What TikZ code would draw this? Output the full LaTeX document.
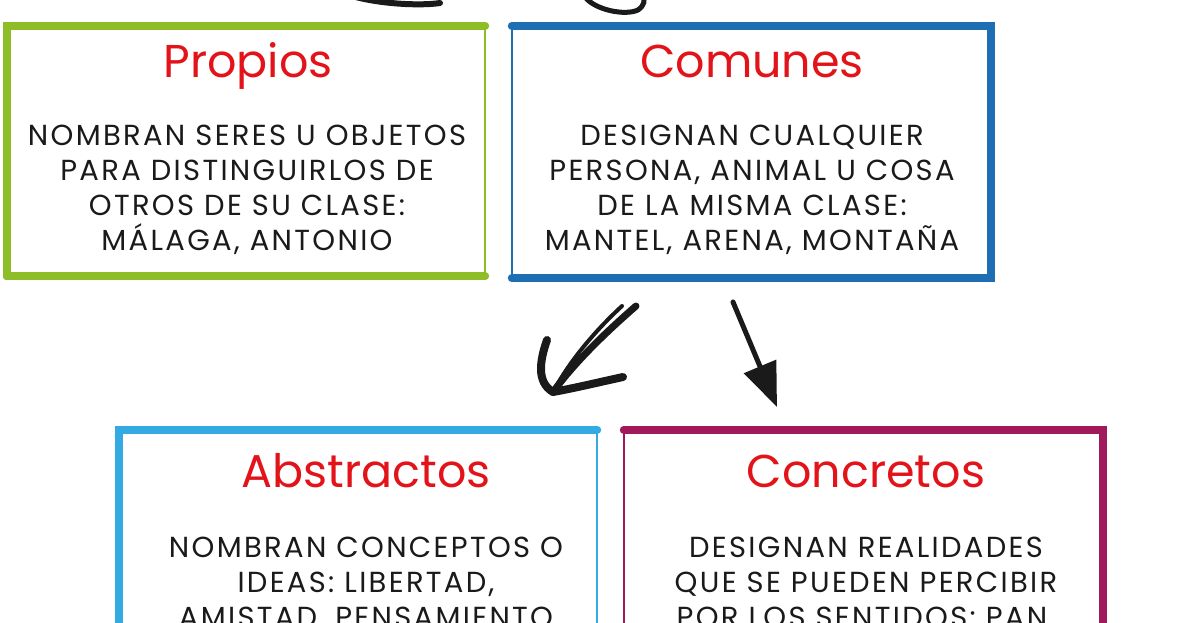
\documentclass[tikz,border=0pt]{standalone}
\usepackage{fontspec}
\setmainfont{Poppins}
\newfontfamily\cuerpo{Poppins}[LetterSpace=8]
\usetikzlibrary{arrows.meta}

\definecolor{verde}{HTML}{8DBE28}
\definecolor{azul}{HTML}{1E6EB4}
\definecolor{celeste}{HTML}{33AAE1}
\definecolor{magenta}{HTML}{A0195A}
\definecolor{rojo}{HTML}{E2141A}
\definecolor{tinta}{HTML}{1A1A1A}

\tikzset{
  caja/.style={draw=none,inner sep=0pt},
  grueso/.style={line width=8pt,line cap=round},
  fino/.style={line width=2.5pt,line cap=round},
  titulo/.style={text=rojo,font=\fontsize{46}{50}\selectfont,anchor=base,inner sep=0pt},
  texto/.style={text=tinta,font=\cuerpo\fontsize{29}{35}\selectfont,align=center,anchor=north,inner sep=0pt},
  trazo/.style={draw=tinta,line cap=round,line join=round}
}

\begin{document}
\begin{tikzpicture}[x=1pt,y=-1pt]

  \useasboundingbox (0,0) rectangle (1186,622);
  \clip (0,0) rectangle (1186,622);
  \fill[white] (0,0) rectangle (1186,622);

  % Specification of boxes (position, size)
  \node[caja,minimum width=478pt,minimum height=250pt] (propios) at (246,151) {};
  \node[caja,minimum width=479pt,minimum height=252pt] (comunes) at (751.5,152) {};
  \node[caja,minimum width=478pt,minimum height=470pt] (abstractos) at (358,665) {};
  \node[caja,minimum width=479pt,minimum height=470pt] (concretos) at (863.5,665) {};

  % Box edges
  \draw[verde,grueso] (propios.south west) -- (propios.north west) -- (propios.north east);
  \draw[verde,grueso] (propios.south west) -- (propios.south east);
  \draw[verde,fino] (propios.north east) -- (propios.south east);

  \draw[azul,grueso] (comunes.north west) -- (comunes.north east) -- (comunes.south east) -- (comunes.south west);
  \draw[azul,fino] (comunes.north west) -- (comunes.south west);

  \draw[celeste,grueso] (abstractos.south west) -- (abstractos.north west) -- (abstractos.north east);
  \draw[celeste,fino] (abstractos.north east) -- (abstractos.south east);

  \draw[magenta,grueso] (concretos.north west) -- (concretos.north east) -- (concretos.south east);
  \draw[magenta,fino] (concretos.north west) -- (concretos.south west);

  % Titles
  \node[titulo] (tpropios) at (248,77) {Propios};
  \node[titulo] (tcomunes) at (752,77) {Comunes};
  \node[titulo] (tabstractos) at (366,487) {Abstractos};
  \node[titulo] (tconcretos) at (866,487) {Concretos};

  % Texts
  \node[texto] (xpropios) at (247,125) {NOMBRAN SERES U OBJETOS\\PARA DISTINGUIRLOS DE\\OTROS DE SU CLASE:\\MÁLAGA, ANTONIO};
  \node[texto] (xcomunes) at (752,125) {DESIGNAN CUALQUIER\\PERSONA, ANIMAL U COSA\\DE LA MISMA CLASE:\\MANTEL, ARENA, MONTAÑA};
  \node[texto] (xabstractos) at (366,537) {NOMBRAN CONCEPTOS O\\IDEAS: LIBERTAD,\\AMISTAD, PENSAMIENTO};
  \node[texto] (xconcretos) at (866,537) {DESIGNAN REALIDADES\\QUE SE PUEDEN PERCIBIR\\POR LOS SENTIDOS: PAN,};

  % Arrow ends
  \coordinate (a0) at (636,306);
  \coordinate (a1) at (622,306);
  \coordinate (ap) at (553,392);
  \coordinate (b0) at (733,302);
  \coordinate (bp) at (777,407);
  \coordinate (t0) at (352,-4);
  \coordinate (t1) at (440,3);
  \coordinate (u0) at (585,-3);
  \coordinate (u1) at (643,-5);

  \begin{scope}[trazo]
    % Comunes -> Abstractos
    \draw[line width=7pt] (a0) .. controls (605,333) and (575,362) .. (ap);
    \draw[line width=4pt] (a1) .. controls (596,330) and (570,360) .. (ap);
    \draw[line width=8pt] (547,340) .. controls (540,360) and (536,382) .. (ap);
    \draw[line width=8pt] (623,377) .. controls (600,382) and (575,388) .. (ap);
    % Comunes -> Concretos
    \draw[line width=5pt,-{Triangle[length=44pt,width=34pt]}] (b0) -- (bp);
    % from above
    \draw[line width=6pt] (t0) .. controls (380,4) and (420,6) .. (t1);
    \draw[line width=5pt] (u0) .. controls (595,10) and (625,16) .. (638,10) .. controls (645,5) and (645,0) .. (u1);
  \end{scope}

\end{tikzpicture}
\end{document}
